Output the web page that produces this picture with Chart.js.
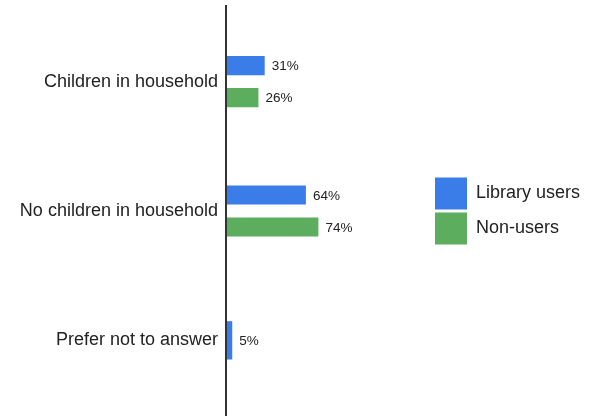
<!DOCTYPE html>
<html>
<head>
<meta charset="utf-8">
<script src="https://cdn.jsdelivr.net/npm/chart.js@4/dist/chart.umd.min.js"></script>
<style>
  html, body { margin: 0; padding: 0; background: #fff; }
  #wrap { width: 594px; height: 416px; }
</style>
</head>
<body>
<div id="wrap"><canvas id="myChart" width="594" height="416"></canvas></div>
<script>
const categories = ['Children in household', 'No children in household', 'Prefer not to answer']
const libraryUsers = [31, 64, 5]
const nonUsers = [26, 74, null]
const seriesNames = ['Library users', 'Non-users']

const ctx = document.getElementById('myChart')

Chart.defaults.font.family = 'Arial, "Liberation Sans", sans-serif'
Chart.defaults.color = '#222'

// vertical axis line, drawn over bars
const axisLine = {
  id: 'axisLine',
  afterDatasetsDraw(chart) {
    const c = chart.ctx
    const x = chart.scales.x.getPixelForValue(0)
    c.save()
    c.strokeStyle = '#333'
    c.lineWidth = 2
    c.beginPath()
    c.moveTo(x, 5)
    c.lineTo(x, chart.height)
    c.stroke()
    c.restore()
  }
}

// value labels at bar ends
const valueLabels = {
  id: 'valueLabels',
  afterDatasetsDraw(chart) {
    const c = chart.ctx
    c.save()
    c.font = '13.5px Arial, "Liberation Sans", sans-serif'
    c.fillStyle = '#222'
    c.textAlign = 'left'
    c.textBaseline = 'middle'
    chart.data.datasets.forEach((ds, i) => {
      const meta = chart.getDatasetMeta(i)
      meta.data.forEach((bar, j) => {
        const v = ds.data[j]
        if (v === null || v === undefined) return
        c.fillText(v + '%', bar.x + 7, bar.y + 1)
      })
    })
    c.restore()
  }
}

// legend text got clipped, give the legend box a few px more
const widerLegend = {
  id: 'widerLegend',
  afterInit(chart) {
    const legend = chart.legend
    if (!legend) return
    const fit = legend.fit
    legend.fit = function () {
      fit.call(this)
      this.width += 6
    }
  }
}

new Chart(ctx, {
  type: 'bar',
  data: {
    labels: categories,
    datasets: [{
      label: seriesNames[0],
      data: libraryUsers,
      backgroundColor: '#3b7de8',
      borderWidth: 0
    }, {
      label: seriesNames[1],
      data: nonUsers,
      backgroundColor: '#5cae5e',
      borderWidth: 0
    }]
  },
  options: {
    indexAxis: 'y',
    responsive: false,
    animation: false,
    skipNull: true,
    categoryPercentage: 0.494,
    barPercentage: 0.6,
    layout: {
      padding: { top: 17, bottom: 11, right: 10, left: 0 }
    },
    scales: {
      x: {
        display: false,
        min: 0,
        max: 165
      },
      y: {
        grid: { display: false, drawTicks: false },
        border: { display: false },
        ticks: {
          padding: 8,
          font: { size: 18 },
          color: '#222'
        },
        afterFit(scale) {
          scale.width = 226
          scale.paddingTop = 0
          scale.paddingBottom = 0
        }
      }
    },
    plugins: {
      legend: {
        position: 'right',
        labels: {
          boxWidth: 32,
          boxHeight: 32,
          padding: 3,
          font: { size: 18 },
          color: '#222'
        }
      },
      tooltip: { enabled: false }
    }
  },
  plugins: [axisLine, valueLabels, widerLegend]
})
</script>
</body>
</html>
